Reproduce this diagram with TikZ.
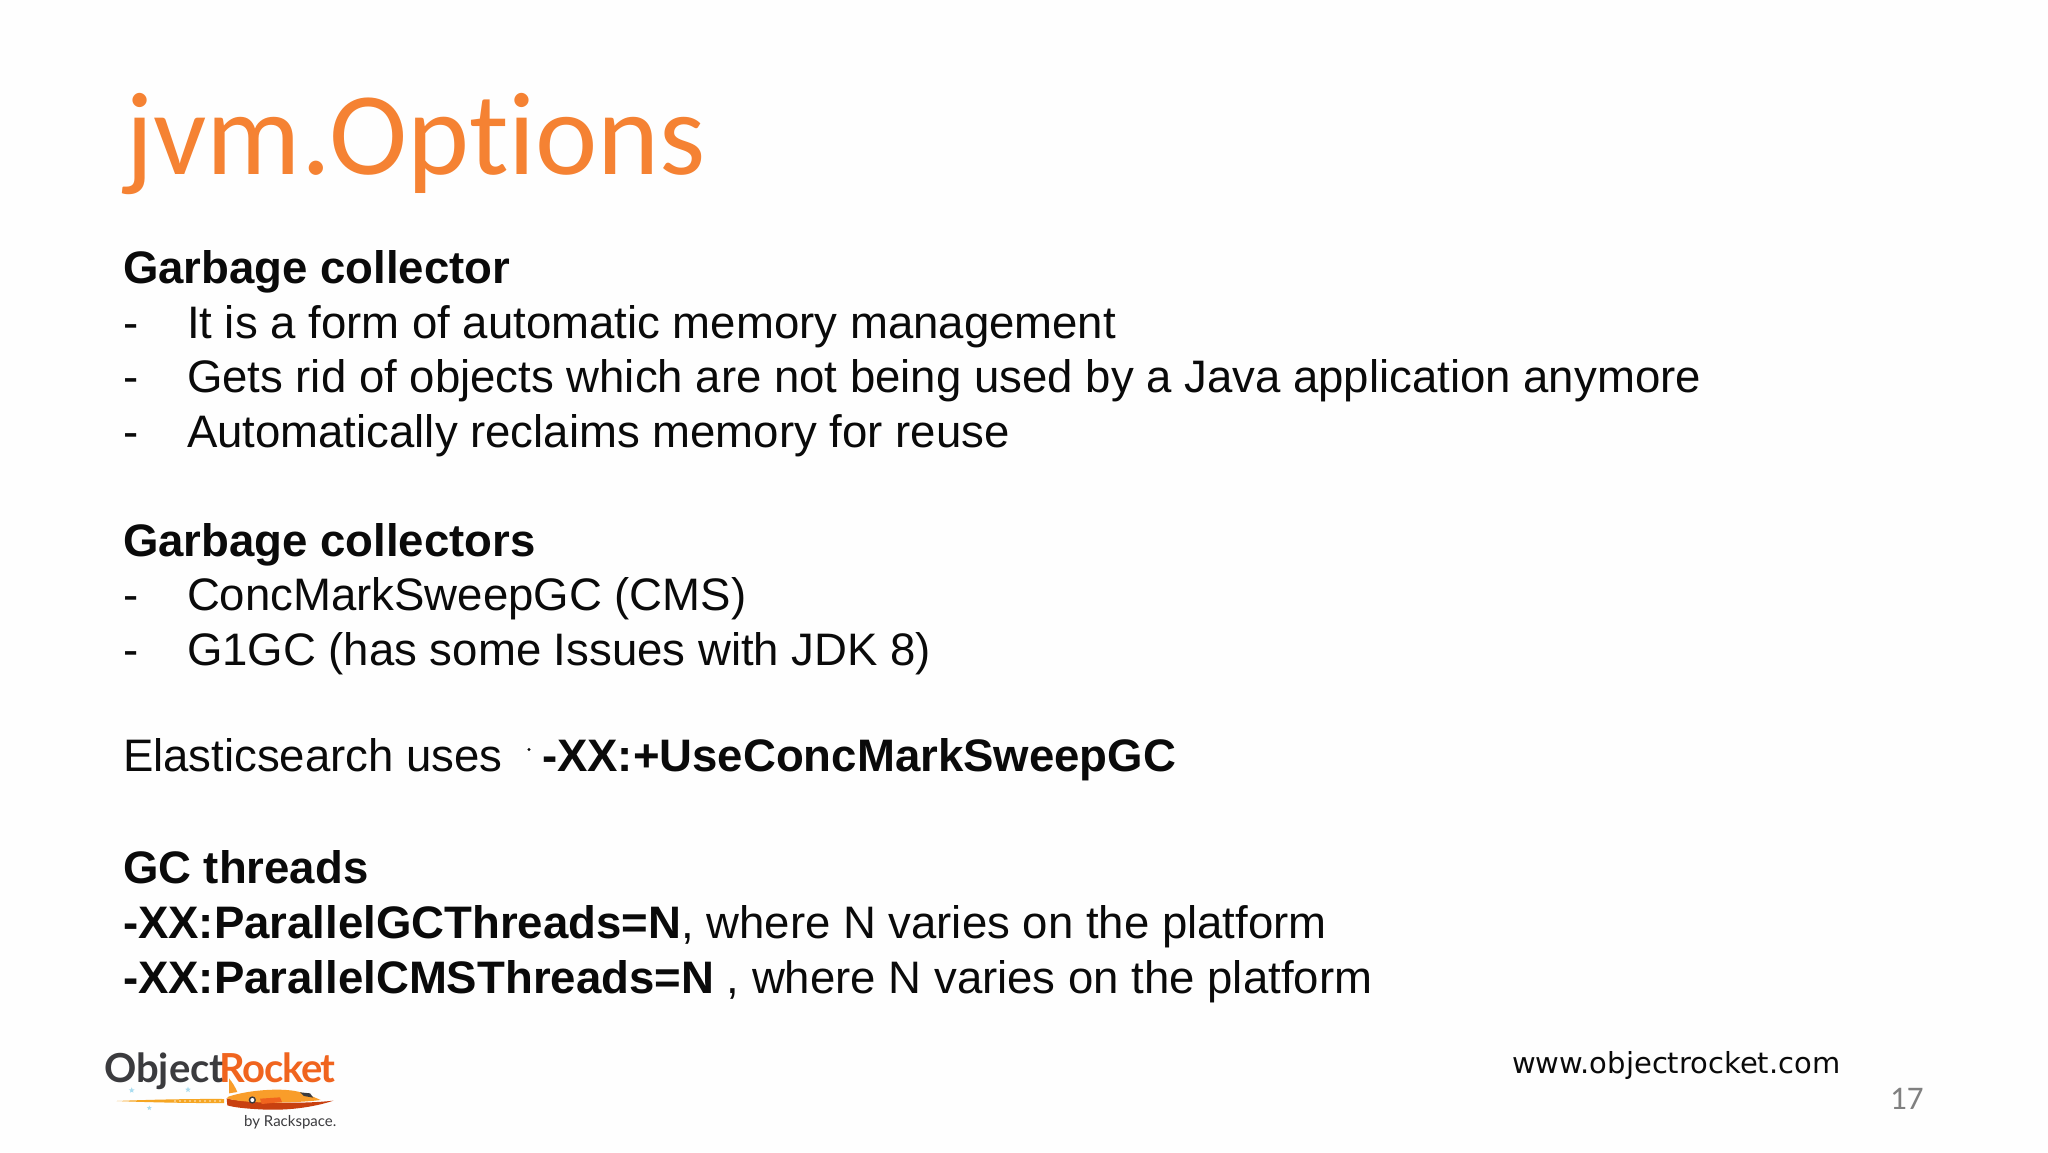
\documentclass[tikz,border=0pt]{standalone}
\usepackage{fontspec}
\setmainfont{Liberation Sans}
\newfontfamily\titlefont[Ligatures=NoCommon]{Carlito}
\newfontfamily\urlfont{DejaVu Sans}
\newfontfamily\logofont{Lato}
\newfontfamily\logotight[LetterSpace=-3.3]{Lato}
\usetikzlibrary{shapes.geometric}
\definecolor{ttl}{HTML}{F58233}
\definecolor{ink}{HTML}{0A0A0A}
\definecolor{logodark}{HTML}{3B3B3E}
\definecolor{logoorange}{HTML}{F0641E}
\definecolor{rocketlight}{HTML}{F99D2A}
\definecolor{rocketdark}{HTML}{C8400F}
\definecolor{trail}{HTML}{F6A623}
\definecolor{starblue}{HTML}{A9DCF0}
\tikzset{
  txt/.style={anchor=base west,inner sep=0pt,outer sep=0pt,text=ink,font=\fontsize{45.55}{50}\selectfont},
  head/.style={txt,font=\fontsize{45.55}{50}\selectfont\bfseries},
  titletxt/.style={anchor=base west,inner sep=0pt,text=ttl,font=\titlefont\fontsize{118}{120}\selectfont},
  urltxt/.style={anchor=base west,inner sep=0pt,text=ink,font=\urlfont\fontsize{29}{34}\selectfont},
  pagetxt/.style={anchor=base west,inner sep=0pt,text=black!50,font=\titlefont\fontsize{33}{36}\selectfont},
  logotxt/.style={anchor=base west,inner sep=0pt,font=\logofont\bfseries\fontsize{40}{44}\selectfont},
  rocktxt/.style={anchor=base east,inner sep=0pt,font=\logotight\bfseries\fontsize{40}{44}\selectfont},
  bytxt/.style={anchor=base west,inner sep=0pt,text=logodark,font=\logofont\fontsize{15}{18}\selectfont},
  starmark/.style={star,star points=5,star point ratio=2.3,fill=starblue,inner sep=0pt,minimum size=6pt},
}
\begin{document}
\begin{tikzpicture}[x=1pt,y=-1pt]
\useasboundingbox (0,0) rectangle (2048,1152);
\fill[white!99.5!black] (0,0) rectangle (2048,1152);
\node[titletxt] (title) at (125,174) {jvm.Options};

\node[head] (l0) at (123,283) {Garbage collector};
\node[txt] (d1) at (123,338) {-};
\node[txt] (l1) at (187,338) {It is a form of automatic memory management};
\node[txt] (d2) at (123,392.5) {-};
\node[txt] (l2) at (187,392.5) {Gets rid of objects which are not being used by a Java application anymore};
\node[txt] (d3) at (123,447) {-};
\node[txt] (l3) at (187,447) {Automatically reclaims memory for reuse};

\node[head] (l5) at (123,556) {Garbage collectors};
\node[txt] (d6) at (123,610) {-};
\node[txt] (l6) at (187,610) {ConcMarkSweepGC (CMS)};
\node[txt] (d7) at (123,665) {-};
\node[txt] (l7) at (187,665) {G1GC (has some Issues with JDK 8)};

\node[txt] (l9) at (123,771) {Elasticsearch uses};
\node[head] (l9b) at (542,771) {-XX:+UseConcMarkSweepGC};
\fill[ink] (529,749.5) circle (1.6pt);

\node[head] (l11) at (123,883.5) {GC threads};
\node[txt] (l12) at (123,938) {\textbf{-XX:ParallelGCThreads=N}, where N varies on the platform};
\node[txt] (l13) at (123,993) {\textbf{-XX:ParallelCMSThreads=N} , where N varies on the platform};

\node[urltxt] (url) at (1512,1073) {www.objectrocket.com};
\node[pagetxt] (page) at (1890,1109) {17};

% logo
\node[logotxt,text=logodark] (objtxt) at (104,1082) {Object};
\node[rocktxt,text=logoorange] (rocktxt) at (336,1082) {Rocket};
\node[bytxt] (bytext) at (244,1126) {by Rackspace.};
\begin{scope}[shift={(80,1030)},xscale=1/3,yscale=1/3]
  \fill[trail] (110,213) .. controls (200,209) and (350,206) .. (432,207) -- (432,219) .. controls (350,220) and (200,217) .. (110,213) -- cycle;
  \foreach \px in {285,300,...,420} \fill[white!80!trail] (\px,213) circle (2.4);
  \fill[rocketlight] (447,145) .. controls (458,158) and (466,172) .. (472,186) -- (447,190) -- cycle;
  \fill[rocketdark] (440,205) .. controls (470,215) and (640,225) .. (760,212) .. controls (700,232) and (620,243) .. (540,238) .. controls (500,236) and (460,232) .. (442,226) -- cycle;
  \fill[rocketlight] (445,200) .. controls (510,178) and (620,172) .. (665,188) .. controls (690,195) and (710,205) .. (722,210) .. controls (640,220) and (500,222) .. (440,205) -- cycle;
  \fill[logodark] (660,187) -- (690,190) -- (700,203) -- (672,198) -- cycle;
  \fill[logoorange] (540,206) -- (600,202) -- (606,216) -- (545,222) -- cycle;
  \fill[logodark] (517,210) circle (11);
  \fill[white] (517,210) circle (6);
\end{scope}
\node[starmark] (s1) at (131.7,1090.3) {};
\node[starmark] (s2) at (188,1089.7) {};
\node[starmark,minimum size=5pt] (s3) at (149.3,1108) {};
\end{tikzpicture}
\end{document}
